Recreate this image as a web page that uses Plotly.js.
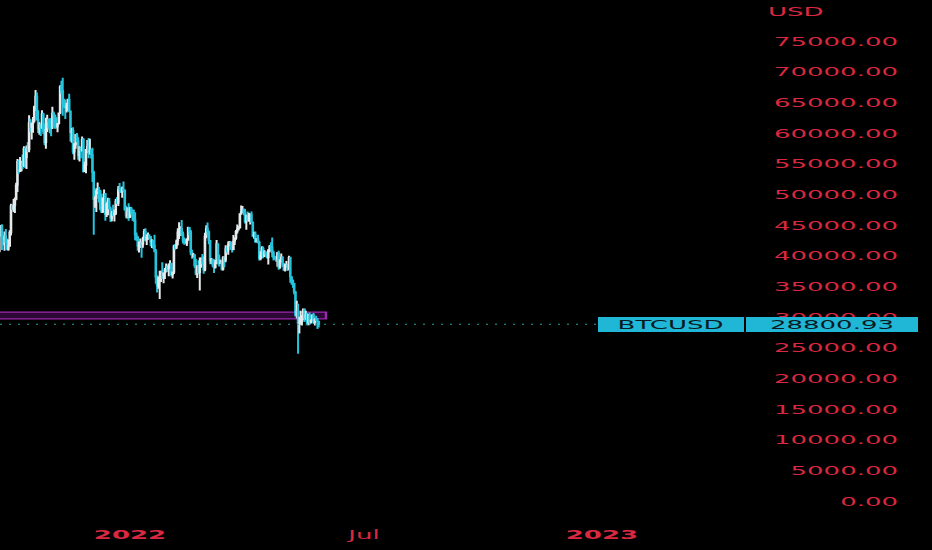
<!DOCTYPE html>
<html><head><meta charset="utf-8">
<script src="https://cdn.plot.ly/plotly-3.0.1.min.js"></script>
<style>
html,body{margin:0;padding:0;background:#000;overflow:hidden;width:932px;height:550px;}
#chart{width:466px;height:550px;transform:scaleX(2);transform-origin:0 0;}
</style></head><body><div id="chart"></div>
<script>
// BTCUSD daily candles, 2021-09-21 .. 2022-05-27
const startDate = [2021, 8, 21];
const opens = [
  42940,40690,43570,44890,42840,42710,43210,42180,41030,41520,
  43790,48140,47660,48230,49240,51490,55340,53800,53970,54960,54690,57490,56010,57370,57350,61670,60880,61530,62010,64280,66000,62190,60690,61300,60860,63080,60330,58450,60590,62250,61850,
  61300,61000,63220,62940,61440,61020,61530,63270,67530,66940,64880,64780,64130,64390,65490,63600,60090,60350,56900,58100,59730,58710,56290,57550,57160,58960,53730,54730,57270,57800,
  56950,57180,56480,53600,49200,49380,50570,50620,50510,47650,47120,49390,50100,46720,48380,48880,47630,46150,46850,46690,46910,48890,48590,50830,50820,50430,50800,50720,47540,46470,47130,
  46210,47730,47300,46440,45830,43430,43080,41560,41680,41870,41830,42740,43920,42590,43100,43180,43110,42230,42380,41690,40700,36470,35080,36250,36660,36960,36810,37160,37720,38170,37900,
  38480,38730,36900,37330,41570,41390,42400,43840,44040,44370,43540,42390,42230,42070,42540,44580,43900,40560,40000,40130,38380,37030,38260,37260,38350,39220,39120,37700,
  43180,44420,43900,42460,39140,39400,38420,38060,38740,41960,39440,38730,38820,37780,39680,39290,41120,40920,41770,42230,41260,41000,42370,42890,43960,44330,44510,46820,47130,47450,47070,
  45530,46300,45820,46410,46620,45500,43170,43440,42280,42760,42160,39530,40080,41150,39940,40550,40380,39700,40800,41500,41370,40480,39710,39470,39450,40430,38110,39240,39740,38600,
  37640,38470,38530,37750,39690,36550,36010,35470,34060,30300,31020,28940,29050,29280,29860,31300,29860,30420,28720,30310,29200,29430,30320,29100,29650,29560,29270
];
const highs = [
  43620,44000,44980,45120,42970,43920,44350,42790,42630,44130,
  48470,48340,49230,49500,51880,55750,55600,56100,55480,56500,57830,57630,57950,58510,62900,62320,61690,62620,64440,67000,66600,63720,61750,61480,63710,63290,61500,62500,62960,62300,62400,
  62420,64270,63490,62960,62580,61560,63290,67790,68530,69000,65600,65450,64920,65500,66400,63600,60810,60950,58360,59840,60000,59290,57840,57710,59420,59170,55320,57410,58860,59200,
  59050,57380,57600,53860,49690,50990,51930,51180,50730,50100,49470,50800,50200,48680,49460,49400,47970,47300,48300,47530,49300,49560,51370,51830,51150,51270,52090,50720,48130,47880,48550,
  47950,47990,47570,47500,47070,43760,43150,42300,42790,42250,43100,44350,44450,43450,43790,43480,43180,42680,42570,43420,41100,36800,36560,37550,37550,38920,37230,38000,38720,38360,38740,
  39240,38830,37410,41770,41920,42630,44450,45450,44780,45800,43920,42950,42750,42860,44700,44580,44200,40960,40450,40170,39480,38420,39250,39700,39720,40290,39850,43750,
  44950,45400,44100,42520,39620,39450,39430,39300,42560,42000,40200,39350,39250,39900,39860,41700,41470,42300,42400,42300,41530,43350,42980,44170,45100,44800,46900,48190,48100,47700,47600,
  46700,47200,47000,46880,47200,45500,43900,43960,42800,43420,42420,40700,41550,41500,40870,40700,40600,41100,41750,42200,42970,40790,39980,39900,40600,40800,39430,40350,39920,38800,
  38680,39150,38650,39980,39830,36650,36120,35500,34250,32650,32150,30050,31000,30310,31400,31310,31000,30680,30530,30750,29600,30430,30650,29800,30200,29850,29370
];
const lows = [
  39790,40550,43100,40930,41690,40800,42150,40890,40810,41440,
  43290,47420,47130,46940,49050,50400,53360,53660,53710,54120,54440,54290,54140,56900,56850,60140,58960,60040,61700,63550,62050,60000,59700,59520,60680,59840,58000,57450,60170,60750,59950,
  59460,60650,60930,60710,60750,60110,61390,63110,66340,62820,64120,62300,63330,63580,63370,58620,58400,56520,55630,57450,58500,55620,55370,55900,57000,53570,53670,53440,56700,55890,
  56510,55840,52030,43400,47800,47100,50050,48650,47360,46950,46960,48700,45700,46300,46570,47550,45500,45600,46430,45580,46640,48440,48080,50450,50200,49440,50460,47340,46100,46070,45690,
  46210,46660,45700,45520,42500,42430,40800,40500,41270,39650,41290,42470,42310,41730,42580,42700,41550,41250,41140,40550,35440,34010,34600,32950,35700,36250,35510,36200,37300,37350,36630,
  38010,36590,36270,37030,40950,41100,41700,42700,43200,43220,42000,41800,41860,41570,42440,43320,40100,39480,39650,38020,36810,36350,37050,34320,38020,38620,37050,37470,
  42850,43330,41850,38620,38650,38100,37190,37900,38700,38560,38240,38700,37600,37580,38120,38920,40500,40150,41520,40920,40500,40900,41750,42600,43600,44100,44420,46670,46950,46570,45250,
  44230,45650,45530,45100,45370,43100,42750,42120,42130,42000,39200,39250,39580,39570,39780,40000,39550,38550,40570,40840,39760,39200,39300,39000,38200,37700,37870,38870,38180,37600,
  37400,38050,37520,37670,35580,35270,34750,33720,30070,29750,24000,27300,28730,28620,29490,29200,29450,28650,28700,28730,28950,29250,28850,28600,29350,28050,28280
];
const closes = [
  40690,43570,44890,42840,42710,43210,42180,41030,41520,43790,
  48140,47660,48230,49240,51490,55340,53800,53970,54960,54690,57490,56010,57370,57350,61670,60880,61530,62010,64280,66000,62190,60690,61300,60860,63080,60330,58450,60590,62250,61850,61300,
  61000,63220,62940,61440,61020,61530,63270,67530,66940,64880,64780,64130,64390,65490,63600,60090,60350,56900,58100,59730,58710,56290,57550,57160,58960,53730,54730,57270,57800,56950,
  57180,56480,53600,49200,49380,50570,50620,50510,47650,47120,49390,50100,46720,48380,48880,47630,46150,46850,46690,46910,48890,48590,50830,50820,50430,50800,50720,47540,46470,47130,46210,
  47730,47300,46440,45830,43430,43080,41560,41680,41870,41830,42740,43920,42590,43100,43180,43110,42230,42380,41690,40700,36470,35080,36250,36660,36960,36810,37160,37720,38170,37900,38480,
  38730,36900,37330,41570,41390,42400,43840,44040,44370,43540,42390,42230,42070,42540,44580,43900,40560,40000,40130,38380,37030,38260,37260,38350,39220,39120,37700,43180,
  44420,43900,42460,39140,39400,38420,38060,38740,41960,39440,38730,38820,37780,39680,39290,41120,40920,41770,42230,41260,41000,42370,42890,43960,44330,44510,46820,47130,47450,47070,45530,
  46300,45820,46410,46620,45500,43170,43440,42280,42760,42160,39530,40080,41150,39940,40550,40380,39700,40800,41500,41370,40480,39710,39470,39450,40430,38110,39240,39740,38600,37640,
  38470,38530,37750,39690,36550,36010,35470,34060,30300,31020,28940,29050,29280,29860,31300,29860,30420,28720,30310,29200,29430,30320,29100,29650,29560,29270,28800.93
];
const xTickVals = ['2022-01-01', '2022-07-01', '2023-01-01'];
const xTickText = ['<b>2022</b>', 'Jul', '<b>2023</b>'];
const symbol = 'BTCUSD';
const currency = 'USD';
const zoneLow = 29700, zoneHigh = 30800, zoneEnd = '2022-06-01 14:00';

const dates = closes.map((_, i) =>
  new Date(Date.UTC(startDate[0], startDate[1], startDate[2] + i)).toISOString().slice(0, 10));
const lastPrice = closes[closes.length - 1];

const RED = '#d9283f';
const INC = '#e4eaec';
const DEC = '#26c3dc';
const TAG = '#20b7d6';
const FONT = 'DejaVu Sans';

const trace = {
  type: 'candlestick', x: dates, open: opens, high: highs, low: lows, close: closes,
  increasing: {line: {color: INC, width: 1}, fillcolor: INC},
  decreasing: {line: {color: DEC, width: 1}, fillcolor: DEC},
  whiskerwidth: 0, hoverinfo: 'skip'
};

const layout = {
  width: 466, height: 550,
  paper_bgcolor: '#000', plot_bgcolor: '#000',
  margin: {l: 0, r: 14, t: 15, b: 25},
  showlegend: false,
  xaxis: {
    type: 'date', range: ['2021-09-22 12:00', '2023-08-22 14:00'],
    rangeslider: {visible: false}, showgrid: false, zeroline: false, showline: false,
    ticks: '', tickvals: xTickVals, ticktext: xTickText,
    tickfont: {family: FONT, size: 13, color: RED}
  },
  yaxis: {
    side: 'right', range: [-3913, 79239], tick0: 0, dtick: 5000, tickformat: '.2f',
    ticklabelposition: 'inside', showgrid: false, zeroline: false, showline: false, ticks: '',
    tickfont: {family: FONT, size: 13, color: RED}
  },
  shapes: [
    {type: 'rect', xref: 'x', yref: 'y', x0: dates[0], x1: zoneEnd, y0: zoneLow, y1: zoneHigh,
     line: {color: '#9c27b0', width: 1.2}, fillcolor: 'rgba(110,20,130,0.4)', layer: 'below'},
    {type: 'line', xref: 'paper', yref: 'y', x0: 0, x1: 299 / 452, y0: lastPrice, y1: lastPrice,
     line: {color: '#1fa5a0', width: 1, dash: '1px,3.5px'}}
  ],
  annotations: [
    {xref: 'paper', yref: 'paper', x: 397.75 / 452, y: 1.0059, text: currency, showarrow: false,
     xanchor: 'center', yanchor: 'middle', font: {family: FONT, size: 13, color: RED}},
    {xref: 'paper', yref: 'y', x: 335.25 / 452, y: lastPrice, text: symbol, showarrow: false,
     xanchor: 'center', yanchor: 'middle', width: 72.5, height: 15, bgcolor: TAG, borderpad: 0, borderwidth: 0,
     font: {family: FONT, size: 13, color: '#0b1a22'}},
    {xref: 'paper', yref: 'y', x: 416 / 452, y: lastPrice, text: lastPrice.toFixed(2), showarrow: false,
     xanchor: 'center', yanchor: 'middle', width: 86, height: 15, bgcolor: TAG, borderpad: 0, borderwidth: 0,
     font: {family: FONT, size: 13, color: '#0b1a22'}}
  ]
};

Plotly.newPlot('chart', [trace], layout, {staticPlot: true, displayModeBar: false});
</script></body></html>
